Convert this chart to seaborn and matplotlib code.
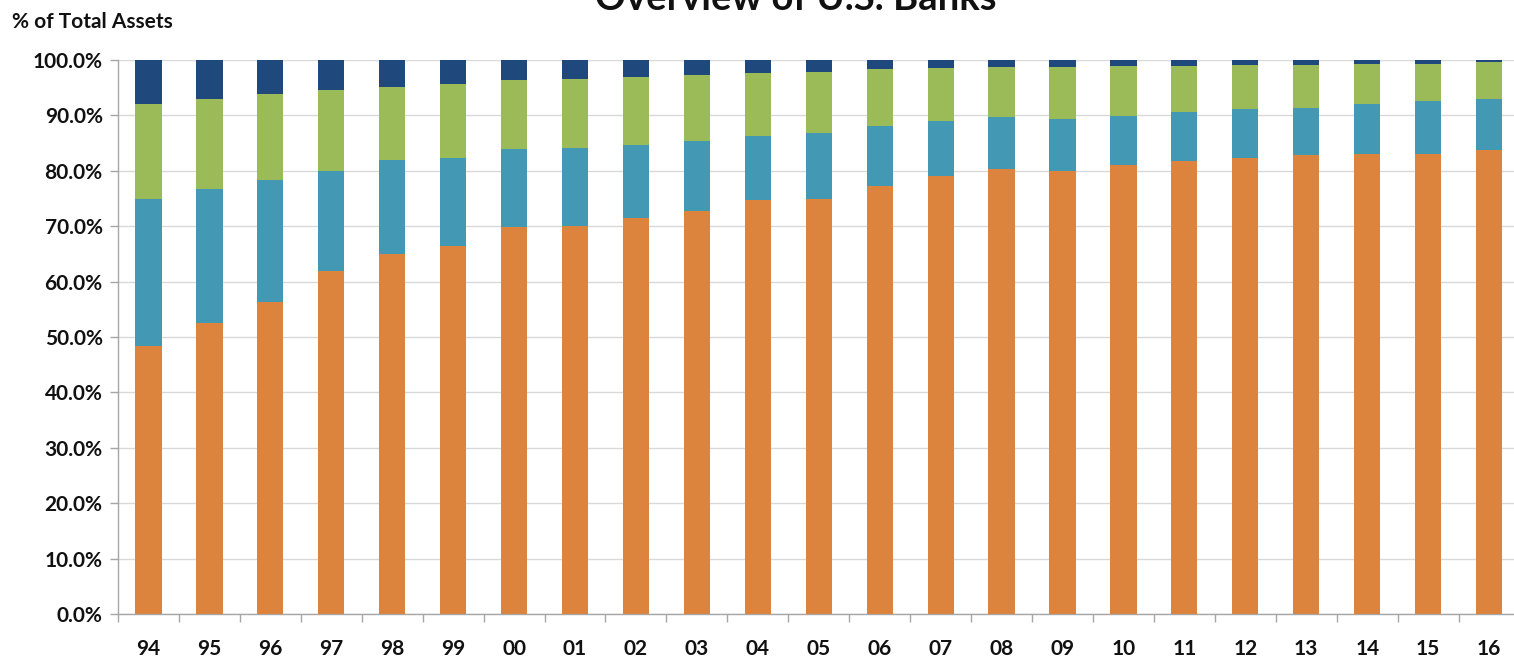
import matplotlib
matplotlib.use("Agg")
import matplotlib.pyplot as plt
from matplotlib.ticker import FixedLocator, PercentFormatter
import numpy as np
import pandas as pd
import seaborn as sns

# Year labels (two-digit)
years = ["94", "95", "96", "97", "98", "99", "00", "01", "02", "03", "04", "05",
         "06", "07", "08", "09", "10", "11", "12", "13", "14", "15", "16"]

# Share of total assets by bank group, % (bottom to top of each stack)
tier_1 = [48.4, 52.5, 56.3, 62.0, 65.0, 66.5, 69.8, 70.1, 71.4, 72.8, 74.8, 75.0,
          77.3, 79.0, 80.4, 79.9, 81.0, 81.8, 82.4, 82.9, 83.1, 83.1, 83.8]
tier_2 = [26.6, 24.3, 22.0, 18.0, 16.9, 15.9, 14.1, 14.0, 13.3, 12.5, 11.5, 11.9,
          10.7, 10.0, 9.4, 9.5, 8.9, 8.8, 8.8, 8.5, 8.9, 9.5, 9.2]
tier_3 = [17.1, 16.2, 15.6, 14.6, 13.3, 13.3, 12.4, 12.4, 12.2, 12.0, 11.4, 11.0,
          10.3, 9.5, 8.9, 9.3, 9.0, 8.3, 7.9, 7.7, 7.3, 6.7, 6.6]
tier_4 = [7.9, 7.0, 6.1, 5.4, 4.8, 4.3, 3.7, 3.5, 3.1, 2.7, 2.3, 2.1,
          1.7, 1.5, 1.3, 1.3, 1.1, 1.1, 0.9, 0.9, 0.7, 0.7, 0.4]

colors = ["#DC843E", "#4399B4", "#9BBB59", "#1F487C"]

sns.set_theme(style="white")
plt.rcParams["font.family"] = ["Lato", "DejaVu Sans"]
plt.rcParams["font.weight"] = "bold"

df = pd.DataFrame({"year": years, "t1": tier_1, "t2": tier_2, "t3": tier_3, "t4": tier_4})
cols = ["t1", "t2", "t3", "t4"]
cum = df[cols].cumsum(axis=1)

W, H = 1514, 657
fig = plt.figure(figsize=(W / 100, H / 100), dpi=100)
ax = fig.add_axes([118 / W, 43 / H, 1401.5 / W, 554 / H])

# Draw stacks as overlapping cumulative bars, tallest first
for col, color in reversed(list(zip(cols, colors))):
    sns.barplot(x=df["year"], y=cum[col], order=years, color=color, saturation=1,
                width=0.43, ax=ax, linewidth=0, zorder=3)

ax.set_xlim(-0.5, len(years) - 0.5)
ax.set_ylim(0, 100)
ax.set_xlabel("")
ax.set_ylabel("")

ax.yaxis.set_major_locator(FixedLocator(np.arange(0, 101, 10)))
ax.yaxis.set_major_formatter(PercentFormatter(decimals=1))
ax.grid(axis="y", color="#D9D9D9", linewidth=1.0, zorder=0)
ax.set_axisbelow(True)

ax.xaxis.set_minor_locator(FixedLocator(np.arange(-0.5, len(years), 1.0)))
ax.tick_params(axis="x", which="major", length=0, pad=18, labelsize=15, labelcolor="#111111")
ax.tick_params(axis="x", which="minor", length=6, width=1, color="#A6A6A6", direction="out", bottom=True)
ax.tick_params(axis="y", which="major", length=6, width=1, color="#A6A6A6", direction="out",
               left=True, pad=5, labelsize=15, labelcolor="#111111")
for lab in ax.get_xticklabels() + ax.get_yticklabels():
    lab.set_fontweight("bold")

for side in ["top", "right"]:
    ax.spines[side].set_visible(False)
for side in ["left", "bottom"]:
    ax.spines[side].set_color("#A6A6A6")
    ax.spines[side].set_linewidth(1)

fig.text(796 / W, 1 - 10 / H, "Overview of U.S. Banks", ha="center", va="baseline",
         fontsize=27.5, fontweight="bold", color="#111111")
fig.text(12 / W, 1 - 28 / H, "% of Total Assets", ha="left", va="baseline",
         fontsize=15, fontweight="bold", color="#111111")

fig.savefig("out.png", dpi=100)
